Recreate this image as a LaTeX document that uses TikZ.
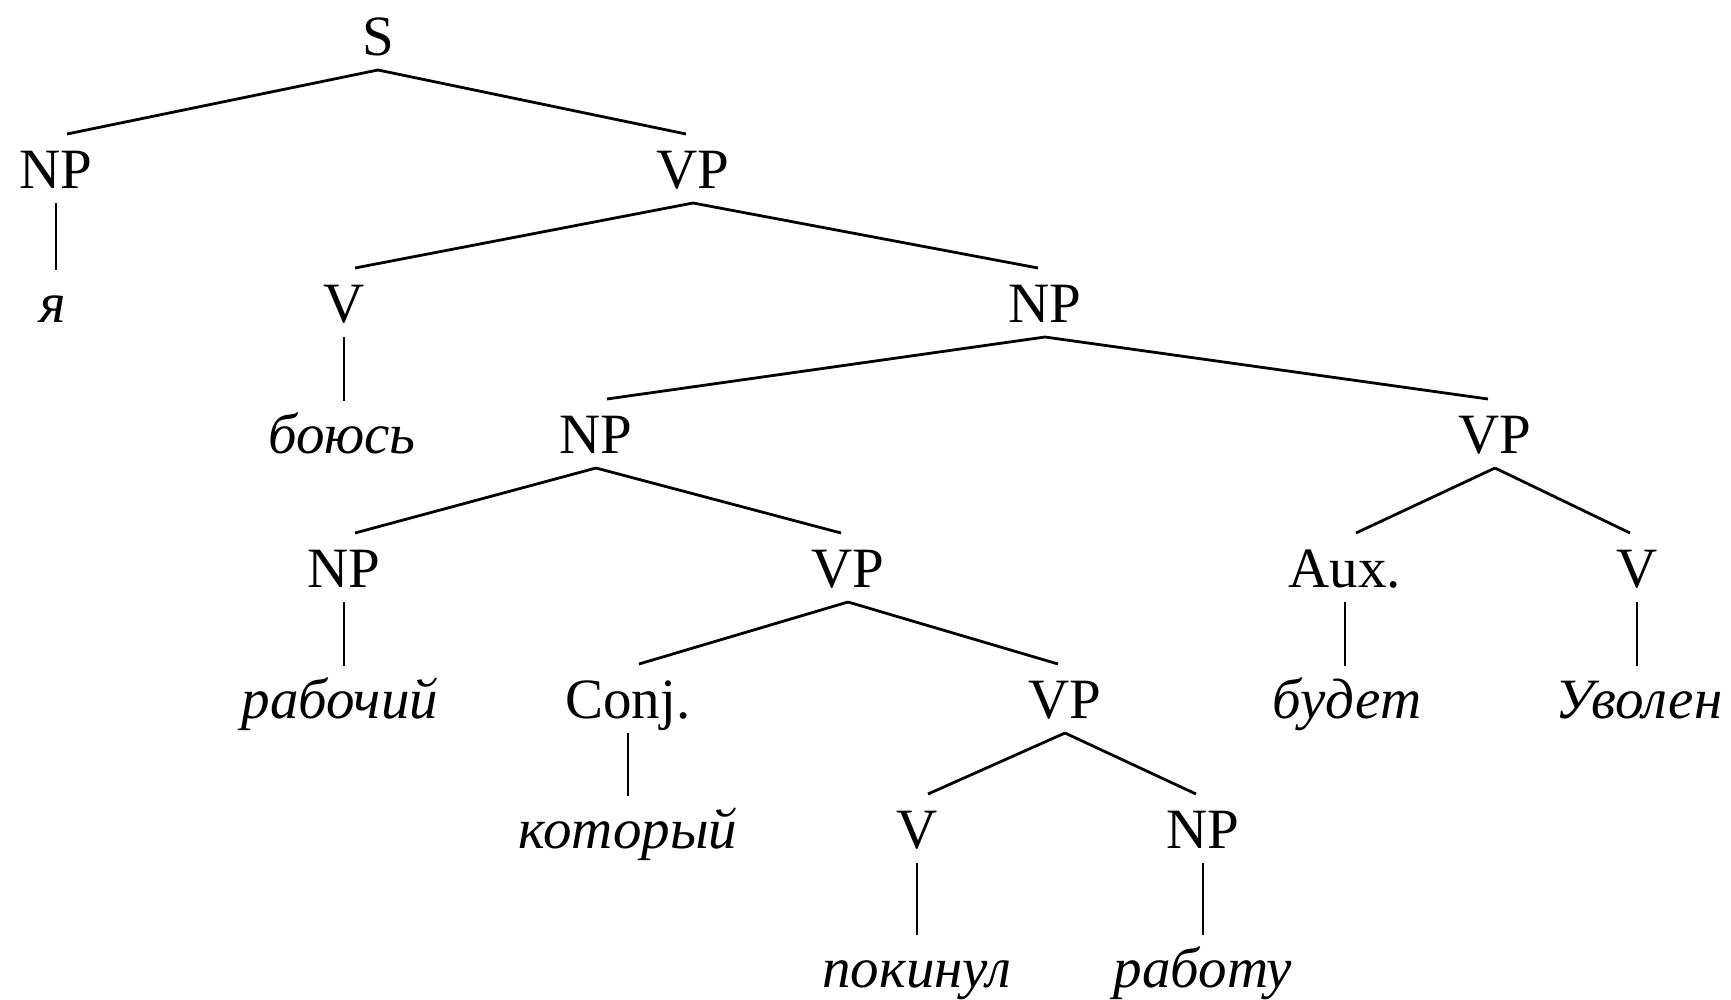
\documentclass[tikz,border=0pt]{standalone}
\usepackage{fontspec}
\setmainfont{Liberation Serif}
\usetikzlibrary{calc}
\newcommand\brl[2]{\draw[edge] ($(#1.base)+(0,15)$) -- ($(#2.base)+(11,-54)$);}
\newcommand\brr[2]{\draw[edge] ($(#1.base)+(0,15)$) -- ($(#2.base)+(-7,-54)$);}
\newcommand\unary[2]{\path (#1.base) ++(0,15) coordinate (ut); \path (#2.base) ++(0,-52) coordinate (ub); \draw[edge] (ut) -- (ut |- ub);}
\begin{document}
\begin{tikzpicture}[x=1pt,y=-1pt,
  lab/.style={anchor=base,inner sep=0pt,font=\fontsize{57}{60}\selectfont},
  word/.style={anchor=base,inner sep=0pt,font=\fontsize{57}{60}\selectfont\itshape},
  edge/.style={line width=2.8pt}]
\useasboundingbox (0,0) rectangle (1731,999);
% row 0
\node[lab] (S) at (378,55) {S};
% row 1
\node[lab] (np1) at (56,188) {NP};
\node[lab] (vp1) at (693,188) {VP};
% row 2
\node[word] (ya) at (53,322) {я};
\node[lab] (v1) at (344,322) {V};
\node[lab] (np2) at (1045,322) {NP};
% row 3
\node[word] (boyus) at (342,453) {боюсь};
\node[lab] (np3) at (596,453) {NP};
\node[lab] (vp2) at (1495,453) {VP};
% row 4
\node[lab] (np4) at (344,587) {NP};
\node[lab] (vp3) at (848,587) {VP};
\node[lab] (aux) at (1345,587) {Aux.};
\node[lab] (v2) at (1637,587) {V};
% row 5
\node[word] (rab) at (340,718) {рабочий};
\node[lab] (conj) at (628,718) {Conj.};
\node[lab] (vp4) at (1065,718) {VP};
\node[word] (budet) at (1347,718) {будет};
\node[word] (uvolen) at (1639,718) {Уволен};
% row 6
\node[word] (kot) at (628,848) {который};
\node[lab] (v3) at (917,848) {V};
\node[lab] (np5) at (1203,848) {NP};
% row 7
\node[word] (pok) at (917,987) {покинул};
\node[word] (rabotu) at (1203,987) {работу};
% edges
\brl{S}{np1} \brr{S}{vp1}
\unary{np1}{ya}
\brl{vp1}{v1} \brr{vp1}{np2}
\unary{v1}{boyus}
\brl{np2}{np3} \brr{np2}{vp2}
\brl{np3}{np4} \brr{np3}{vp3}
\brl{vp2}{aux} \brr{vp2}{v2}
\unary{np4}{rab}
\brl{vp3}{conj} \brr{vp3}{vp4}
\unary{aux}{budet}
\unary{v2}{uvolen}
\unary{conj}{kot}
\brl{vp4}{v3} \brr{vp4}{np5}
\unary{v3}{pok}
\unary{np5}{rabotu}
\end{tikzpicture}
\end{document}
